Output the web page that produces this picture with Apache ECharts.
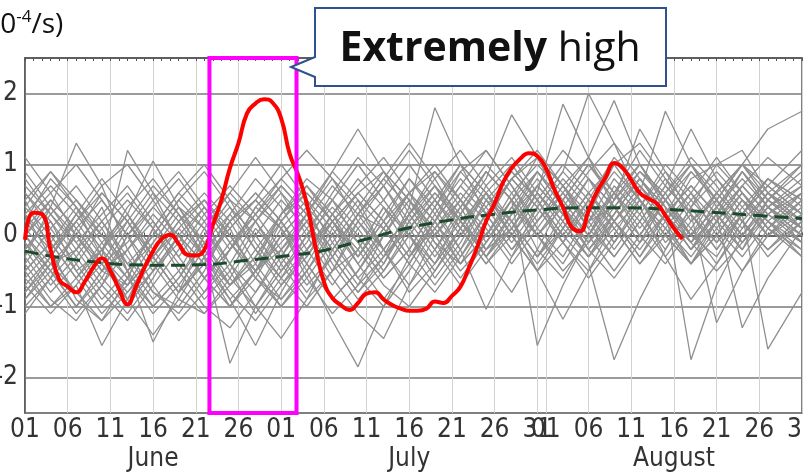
<!DOCTYPE html>
<html>
<head>
<meta charset="utf-8">
<script src="https://cdn.jsdelivr.net/npm/echarts@6/dist/echarts.min.js"></script>
<style>
  html, body { margin: 0; padding: 0; background: #fff; }
  #chart { width: 804px; height: 475px; }
</style>
</head>
<body>
<div id="chart"></div>
<script>
// calendar (June 01 .. August 31)
const months = ['June', 'July', 'August']
const monthLengths = [30, 31, 31]
const labelDays = [1, 6, 11, 16, 21, 26, 31]
const monthNameDay = 16
const yTicks = [-2, -1, 0, 1, 2]

// highlighted period (day index from June 01)
const boxDays = [21.6, 31.8]

// red line: this year, daily from June 01
const redValues = [
  -0.06, 0.32, 0.30, -0.20, -0.62, -0.72, -0.80, -0.65, -0.45, -0.32,
  -0.50, -0.75, -0.97, -0.72, -0.45, -0.22, -0.05, 0.01, -0.12, -0.27,
  -0.28, -0.20, 0.15, 0.50, 0.95, 1.30, 1.72, 1.86, 1.92, 1.87,
  1.65, 1.15, 0.85, 0.45, -0.15, -0.65, -0.88, -0.98, -1.05, -0.95,
  -0.82, -0.80, -0.90, -0.98, -1.03, -1.06, -1.06, -1.03, -0.93, -0.95,
  -0.85, -0.72, -0.45, -0.15, 0.20, 0.45, 0.75, 0.95, 1.08, 1.16,
  1.12, 0.95, 0.65, 0.40, 0.12, 0.06, 0.35, 0.62, 0.82, 1.02,
  0.95, 0.78, 0.60, 0.52, 0.45, 0.28, 0.10, -0.05
]

// dashed line: climatology
const climDays = [0, 4, 8, 12, 17, 21, 26, 31, 35, 40, 45, 50, 55, 60, 65, 70, 75, 80, 86, 91]
const climValues = [-0.22, -0.31, -0.37, -0.41, -0.42, -0.41, -0.35, -0.28, -0.21, -0.05,
  0.11, 0.22, 0.30, 0.36, 0.39, 0.39, 0.37, 0.33, 0.28, 0.24]

// gray lines: other years
const grayDays = [0, 3, 6, 9, 12, 15, 18, 21, 24, 27, 30, 33, 36, 39, 42, 45, 48, 51, 54, 57, 60, 63, 66, 69, 72, 75, 78, 81, 84, 87, 91]
const grayMembers = [
  [1.1, 0.6, 0.0, -0.5, -0.7, -0.3, 0.2, 0.5, 0.1, -0.6, -0.9, -0.5, 0.1, 0.6, 0.9, 0.5, -0.1, -0.4, 0.2, 0.8, 1.1, 0.7, 0.2, 0.4, 0.9, 0.6, 0.0, -0.3, 0.3, 0.8, 0.5],
  [-0.3, 0.4, 1.3, 0.7, -0.2, -0.8, -1.0, -0.5, 0.2, 0.5, 0.1, -0.6, -1.1, -0.7, 0.0, 0.6, 0.9, 0.4, -0.2, 0.1, 0.7, 1.2, 0.8, 0.2, -0.3, 0.2, 0.8, 1.0, 0.6, 0.1, -0.2],
  [0.5, -0.2, -0.9, -1.2, -0.6, 0.1, 0.6, 0.2, -0.4, -1.0, -1.45, -0.9, -0.2, 0.3, 0.1, -0.4, 0.2, 0.9, 1.2, 0.7, 0.1, -0.3, 0.3, 1.0, 1.3, 0.8, 0.2, 0.5, 1.0, 0.7, 0.3],
  [-0.6, -1.0, -0.7, -1.55, -0.9, -0.2, 0.3, -0.1, -0.7, -0.4, 0.3, 0.8, 0.5, -0.1, -0.6, -0.2, 0.4, 1.0, 0.6, 0.0, -0.5, 0.1, 0.6, 0.2, -0.3, 0.3, 0.9, 0.5, -0.1, 0.4, 0.8],
  [0.2, 0.8, 0.4, -0.3, 1.2, 0.6, -0.1, -0.6, -1.0, -0.6, 0.0, 0.4, 0.9, 1.5, 0.9, 0.3, -0.2, 0.3, 0.9, 0.5, -0.2, -0.6, 0.0, 0.7, 0.3, -0.2, 0.4, 1.0, 1.2, 0.6, 0.1],
  [-1.1, -0.6, 0.1, 0.5, 0.0, -0.7, -1.2, -0.8, -0.2, 0.3, 0.8, 0.4, -0.3, -0.8, -0.3, 0.4, 1.8, 1.0, 0.3, -0.2, 0.2, 0.7, 1.1, 0.6, 0.0, -0.4, 0.1, 0.6, 0.2, -0.3, 0.2],
  [0.0, -0.4, -0.2, 0.4, -0.5, -1.5, -0.8, 0.0, 0.5, 0.2, -0.3, 0.3, 0.9, 0.5, -0.2, -0.8, -0.4, 0.3, 0.8, 1.7, 1.1, 0.4, 0.0, 0.5, 1.0, 0.5, -0.1, 0.3, 0.9, 0.4, -0.1],
  [-0.8, -0.3, 0.3, -0.2, -0.9, -1.4, -0.9, -0.3, -1.8, -1.0, -0.4, 0.1, 0.5, 0.1, -0.4, 0.2, 0.7, 0.3, -0.3, -0.8, -0.2, 0.5, 1.0, 0.6, 0.1, 0.6, 1.1, 0.7, 0.2, -0.2, 0.3],
  [0.6, 0.2, -0.5, -1.0, -0.6, 0.1, 0.6, 1.0, 0.5, -0.1, -0.6, -1.0, -0.5, 0.2, 0.7, 1.2, 0.7, 0.1, -0.4, 0.0, 0.6, 1.85, 1.1, 0.4, -0.1, 0.3, 0.7, 0.3, -0.2, 0.5, 0.9],
  [-0.4, -0.9, -1.2, -0.7, 0.0, 0.4, 0.0, -0.6, -0.2, 0.4, 0.1, -0.5, -1.2, -1.85, -1.0, -0.3, 0.3, 0.8, 0.4, -0.1, 0.4, 0.9, 2.0, 1.3, 0.5, 0.0, -0.4, 0.2, 0.7, 0.3, 0.0],
  [0.3, -0.3, -0.8, -0.4, 0.2, 0.7, 0.3, -0.3, -0.9, -1.55, -0.8, -0.2, 0.3, 0.8, 0.4, -0.2, -0.7, -0.2, 0.5, 0.9, 0.5, -0.1, -0.5, 0.0, 0.6, 1.75, 1.0, 0.4, 0.0, 0.5, 1.0],
  [-0.2, 0.3, 0.7, 0.2, -0.4, -0.9, -0.5, 0.1, 0.6, 1.1, 0.6, 0.0, -0.6, -1.1, -1.45, -0.7, 0.0, 0.5, 1.0, 0.6, 0.0, -0.4, 0.2, 0.8, 0.4, -0.3, -0.9, -0.4, 0.2, 0.6, 0.3],
  [-0.5, -0.1, -0.6, -1.1, -0.7, -0.1, 0.4, 0.1, -0.5, -1.1, -0.6, 0.0, 0.6, 1.1, 0.7, 0.1, -0.4, 0.1, 0.6, 0.2, -0.5, -1.18, -0.5, 0.2, 0.7, 0.3, -0.2, 0.4, 0.8, 0.4, 0.0],
  [0.8, 0.3, -0.1, -0.6, -1.0, -0.5, 0.0, -0.4, -1.0, -0.5, 0.2, 0.7, 0.3, -0.3, 0.2, 0.8, 0.4, -0.2, -1.04, -0.3, 0.4, 0.9, 0.5, -0.1, 0.4, 1.0, 0.6, 0.0, -0.5, 0.0, 0.5],
  [-0.9, -0.5, 0.0, 0.6, 0.2, -0.4, -0.9, -1.1, -0.6, 0.0, 0.5, 0.1, -0.5, -0.2, 0.4, 0.0, -0.5, 0.0, 0.6, 1.0, 0.5, 0.0, -0.4, -1.75, -0.9, -0.2, 0.4, 0.8, 0.4, 0.0, 0.4],
  [0.1, 0.5, 0.1, -0.4, -0.8, -0.4, 0.1, 0.5, 0.0, -0.5, -0.2, 0.3, 0.8, 0.4, -0.2, 0.3, 0.9, 0.5, 0.0, 0.5, 1.1, 0.7, 0.1, 0.6, 1.2, 0.7, 1.5, 0.8, 0.3, 0.7, 1.2],
  [-0.3, -0.8, -0.4, 0.1, 0.5, 0.1, -0.5, -1.0, -1.3, -0.8, -0.2, 0.2, -0.3, -0.8, -0.4, 0.3, 0.7, 0.2, -0.3, 0.2, 0.7, 0.3, -0.2, 0.3, 0.8, 0.4, -1.75, -0.7, 0.0, 0.5, 0.2],
  [0.4, 0.0, -0.5, -0.2, 0.3, 1.05, 0.4, -0.2, -0.7, -0.3, 0.3, 0.7, 0.2, -0.4, -0.9, -0.4, 0.2, 0.7, 1.2, 0.7, 0.2, 0.6, 1.1, 1.9, 1.0, 0.4, 0.0, 0.4, 0.9, 0.5, 0.1],
  [-0.7, -0.3, 0.2, 0.6, 0.2, -0.3, -0.8, -0.4, 0.2, 0.6, 0.2, -0.4, -0.9, -0.5, 0.1, 0.6, 0.2, -0.3, 0.2, 0.8, 0.4, -0.1, 0.4, 0.9, 0.5, -0.1, 0.3, -1.23, -0.5, 0.1, 0.6],
  [0.0, -0.5, -1.0, -0.6, 0.0, 0.5, 0.9, 0.4, -0.1, 0.3, 0.7, 0.3, -0.2, 0.3, 0.8, 1.3, 0.8, 0.2, -0.3, 0.1, 0.6, 0.2, -0.3, 0.2, 0.7, 0.3, -0.2, 0.3, -1.3, -0.6, 0.1],
  [-0.2, 0.2, -0.3, -0.8, -1.2, -0.7, -0.2, 0.3, 0.7, 0.3, -0.2, -0.7, -0.3, 0.3, 0.8, 0.4, -0.1, -0.6, -0.1, 0.5, -1.55, -0.7, 0.0, 0.6, 1.0, 0.5, 0.0, 0.6, 1.0, 1.5, 1.75],
  [0.7, 0.3, -0.2, 0.2, 0.6, 0.1, -0.4, -0.9, -0.5, 0.1, -0.3, -0.8, -0.3, 0.2, -0.2, -0.7, -0.2, 0.4, 0.9, 0.5, 0.0, 0.5, 1.0, 0.5, 1.5, 0.9, 0.3, -0.2, 0.3, -1.6, -0.8],
  [-0.5, -1.0, -0.6, -0.1, 0.3, -0.2, -0.7, -1.1, -0.7, -0.2, 0.3, 0.6, 0.2, -0.3, 0.2, 0.6, 0.2, -0.4, 0.0, 0.5, 0.9, 0.4, -0.2, 0.2, 0.6, 0.2, -0.4, 0.1, 0.6, 0.2, -0.2],
  [0.2, -0.2, 0.3, 0.8, 0.3, -0.3, -0.8, -0.3, 0.3, 0.8, 0.4, -0.2, -0.7, -0.2, 0.4, 0.0, -0.6, -0.1, 0.5, 0.2, -0.3, 0.2, 0.8, 0.4, -0.1, 0.5, 1.0, 0.5, 0.0, 0.4, 0.7],
  [-1.0, -0.6, -0.2, -0.7, -1.1, -0.6, 0.0, -0.4, -0.9, -0.5, 0.0, 0.4, 0.0, -0.6, -1.0, -0.5, 0.1, 0.5, 0.1, -0.4, 0.1, 0.6, 0.2, -0.3, 0.2, 0.7, 0.3, -0.1, 0.4, 0.8, 0.4],
  [0.5, 0.9, 0.4, -0.1, -0.6, -1.0, -0.6, 0.0, 0.4, 0.0, -0.5, -0.1, 0.5, 1.0, 0.5, 0.0, -0.4, 0.1, 0.7, 1.1, 0.6, 0.1, -0.3, 0.1, 0.5, 0.1, -0.4, 0.0, 0.5, 0.1, -0.3],
  [-0.1, -0.6, -1.1, -0.7, -0.2, 0.2, -0.3, -0.8, -0.4, 0.2, 0.6, 0.2, -0.4, -0.9, -0.5, 0.1, 0.5, 1.0, 0.6, 0.0, -0.5, -0.1, 0.5, 0.1, -0.4, 0.1, 0.6, 0.2, -0.2, 0.3, 0.6],
  [0.3, -0.1, -0.6, -0.2, 0.4, 0.8, 0.3, -0.3, 0.1, 0.5, 1.0, 0.5, -0.1, -0.6, -0.2, 0.3, -0.2, -0.7, -0.2, 0.3, 0.8, 0.3, -0.2, -0.6, -0.1, 0.5, 0.1, -0.4, 0.1, 0.6, 0.2],
  [-0.6, -0.2, 0.2, -0.3, -0.7, -0.3, 0.2, 0.6, 0.2, -0.4, -0.9, -0.4, 0.2, 0.6, 0.2, -0.3, 0.1, 0.6, 0.2, -0.3, 0.2, 0.7, 0.3, -0.2, 0.3, 0.8, 0.4, -0.1, 0.3, 0.7, 0.3],
  [0.0, 0.4, 0.0, -0.5, -0.2, 0.3, -0.1, -0.6, -1.0, -0.5, 0.1, 0.5, 0.1, -0.4, 0.1, 0.6, 1.0, 0.5, -0.1, 0.4, 0.9, 0.4, -0.1, 0.4, 0.8, 0.3, -0.1, 0.5, 1.0, 0.5, 0.1],
  [0.4, 0.9, 0.5, 0.0, -0.4, 0.0, 0.5, 0.1, -0.4, -0.8, -0.3, 0.2, 0.7, 0.3, -0.2, 0.3, 0.8, 1.2, 0.7, 0.2, -0.3, 0.3, 0.8, 0.4, 0.0, 0.5, 0.9, 0.5, 0.1, 0.6, 1.0],
  [-0.9, -0.4, -0.8, -1.2, -0.8, -0.3, 0.1, -0.3, -0.8, -1.2, -0.7, -0.2, 0.2, -0.2, -0.7, -1.0, -0.5, 0.1, 0.6, 0.2, -0.3, 0.1, 0.6, 1.0, 0.5, 0.0, -0.4, 0.0, 0.5, 0.2, -0.1],
  [0.1, -0.3, 0.2, 0.7, 1.0, 0.5, -0.1, -0.6, -0.2, 0.4, 0.8, 1.2, 0.8, 0.2, -0.3, 0.1, 0.6, 0.2, -0.3, 0.3, 0.9, 0.5, 0.0, -0.5, 0.0, 0.6, 1.0, 0.6, 0.2, -0.2, 0.2],
  [-0.4, 0.1, 0.5, 0.1, -0.5, -1.0, -0.6, -0.1, 0.3, -0.2, -0.7, -0.3, 0.3, 0.7, 1.1, 0.6, 0.0, -0.5, -0.1, 0.4, 0.0, -0.5, -0.1, 0.5, 0.9, 0.5, 0.0, 0.4, 0.9, 0.4, 0.0],
  [0.6, 0.1, -0.4, -0.9, -0.5, 0.0, 0.5, 0.9, 0.4, -0.2, -0.6, -0.2, 0.3, -0.1, -0.6, -0.2, 0.4, 0.9, 0.5, 0.0, 0.5, 1.0, 0.6, 0.1, -0.4, 0.0, 0.5, 0.9, 0.5, 0.0, 0.3],
  [-0.7, -1.1, -0.7, -0.2, 0.2, -0.3, -0.8, -0.4, 0.1, 0.5, 0.1, -0.4, -0.9, -0.5, 0.0, 0.5, 0.1, -0.4, 0.0, 0.6, 1.0, 0.6, 0.1, -0.3, 0.2, 0.7, 0.3, -0.2, 0.3, 0.8, 0.5],
  [0.2, 0.6, 1.0, 0.5, 0.0, -0.5, -0.1, 0.4, -0.1, -0.6, -1.0, -0.6, -0.1, 0.4, 0.9, 0.5, 0.0, 0.4, 0.9, 0.5, 0.0, 0.4, 0.9, 1.3, 0.8, 0.3, -0.2, 0.2, 0.7, 1.1, 0.7],
  [-0.2, -0.7, -0.3, 0.2, -0.3, -0.8, -1.1, -0.6, -0.1, -0.5, -1.0, -0.5, 0.0, 0.5, 0.1, -0.4, -0.8, -0.3, 0.3, 0.8, 0.4, -0.1, -0.6, -0.1, 0.5, 0.1, -0.3, 0.2, 0.6, 0.2, -0.3],
  [0.9, 0.4, -0.1, 0.3, 0.7, 0.2, -0.3, 0.2, 0.6, 0.2, -0.4, -0.9, -0.5, 0.1, 0.5, 1.0, 0.5, 0.0, 0.4, 0.9, 0.5, 0.0, 0.5, 1.1, 0.7, 0.2, 0.6, 1.1, 0.6, 0.1, 0.5],
  [-0.5, -0.1, 0.4, 0.0, -0.5, -0.1, 0.4, -0.1, -0.6, -1.0, -0.5, 0.0, 0.4, 0.0, -0.5, 0.0, 0.5, 0.1, -0.4, 0.1, 0.6, 0.2, -0.3, 0.3, 0.8, 0.4, -0.1, -0.5, -0.1, 0.4, 0.1],
  [-0.1, -0.5, -1.0, -0.5, 0.1, 0.6, 0.2, -0.3, -0.7, -0.3, 0.2, 0.6, 0.2, -0.3, 0.3, 0.8, 0.3, -0.2, 0.3, 0.8, 1.2, 0.7, 0.2, 0.6, 0.2, -0.3, 0.2, 0.6, 1.0, 0.6, 0.2],
  [0.3, 0.7, 0.3, -0.2, -0.6, -1.1, -0.7, -0.2, 0.2, 0.6, 0.2, -0.3, 0.2, 0.6, 0.2, -0.3, 0.2, 0.7, 0.3, -0.2, 0.3, 0.8, 0.4, -0.1, 0.4, 0.9, 0.5, 0.1, -0.3, 0.2, 0.6],
  [-0.8, -0.4, 0.0, -0.4, -0.9, -0.5, 0.0, 0.4, 0.0, -0.5, -0.1, 0.3, -0.2, -0.7, -0.3, 0.2, 0.6, 0.2, -0.2, 0.3, 0.7, 0.3, -0.1, 0.3, 0.8, 0.3, -0.1, 0.3, 0.7, 0.3, -0.1],
  [0.0, 0.5, 0.1, -0.4, -0.1, 0.4, 0.8, 0.3, -0.2, 0.2, 0.7, 0.3, -0.2, 0.3, 0.7, 0.2, -0.3, 0.2, 0.6, 0.1, -0.4, 0.1, 0.6, 0.2, -0.2, 0.3, 0.7, 0.3, -0.1, 0.3, 0.7]
]

const axisFont = "'Liberation Sans Narrow', 'DejaVu Sans Condensed', sans-serif"

const categories = []
months.forEach((m, i) => {
  for (let d = 1; d <= monthLengths[i]; d++) {
    categories.push(m + ' ' + String(d).padStart(2, '0'))
  }
})
const dayOf = (c) => parseInt(c.split(' ')[1], 10)
const showLabel = (index, value) => labelDays.includes(dayOf(value))

const grayColor = '#8f8f8f'
const series = grayMembers.map((vals, k) => ({
  name: 'member' + k,
  type: 'line',
  xAxisIndex: 2,
  symbol: 'none',
  silent: true,
  z: 2,
  lineStyle: { color: grayColor, width: 1.3 },
  data: grayDays.map((d, i) => [d, vals[i]])
}))

series.push({
  name: 'climatology',
  type: 'line',
  xAxisIndex: 2,
  smooth: true,
  symbol: 'none',
  silent: true,
  z: 5,
  lineStyle: { color: '#1c4a2d', width: 3, type: [14, 7] },
  data: climDays.map((d, i) => [d, climValues[i]])
})

series.push({
  name: 'this year',
  type: 'line',
  xAxisIndex: 2,
  smooth: true,
  symbol: 'none',
  silent: true,
  z: 6,
  lineStyle: { color: '#ff0000', width: 4 },
  data: redValues.map((v, i) => [i, v]),
  markArea: {
    silent: true,
    z: 10,
    itemStyle: { color: 'rgba(0,0,0,0)', borderColor: '#ff00ff', borderWidth: 4 },
    data: [[{ xAxis: boxDays[0], yAxis: 2.5 }, { xAxis: boxDays[1], yAxis: -2.5 }]]
  }
})

const chart = echarts.init(document.getElementById('chart'))
chart.setOption({
  animation: false,
  grid: {
    left: 25, right: 2, top: 58, bottom: 62,
    outerBoundsMode: 'none',
    containLabel: false,
    show: true, borderColor: '#555', borderWidth: 1.5
  },
  xAxis: [
    {
      type: 'category',
      data: categories,
      boundaryGap: false,
      position: 'bottom',
      axisLine: { lineStyle: { color: '#555', width: 1.5 } },
      axisTick: { inside: true, length: 3, interval: 0, lineStyle: { color: '#555' } },
      axisLabel: {
        interval: showLabel,
        margin: 2,
        color: '#333',
        fontFamily: axisFont,
        fontSize: 26,
        formatter: (value) => {
          const d = dayOf(value)
          const dd = String(d).padStart(2, '0')
          if (d === monthNameDay) return '{d|' + dd + '}\n{m|' + value.split(' ')[0] + '}'
          return '{d|' + dd + '}'
        },
        rich: {
          d: { fontFamily: axisFont, fontSize: 26, lineHeight: 30, color: '#333' },
          m: { fontFamily: axisFont, fontSize: 26, lineHeight: 28, color: '#333' }
        }
      },
      splitLine: { show: true, interval: showLabel, lineStyle: { color: '#d2d2d2', width: 1 } }
    },
    {
      type: 'category',
      data: categories,
      boundaryGap: false,
      position: 'top',
      axisLine: { lineStyle: { color: '#555', width: 1.5 } },
      axisTick: { inside: true, length: 3, interval: 0, lineStyle: { color: '#555' } },
      axisLabel: { show: false },
      splitLine: { show: false }
    },
    { type: 'value', min: 0, max: 91, show: false }
  ],
  yAxis: {
    type: 'value',
    min: -2.5,
    max: 2.5,
    axisLabel: {
      customValues: yTicks,
      margin: 7,
      color: '#333',
      fontFamily: axisFont,
      fontSize: 26,
      formatter: (v) => String(v)
    },
    axisTick: { show: false, customValues: yTicks },
    axisLine: { show: true, lineStyle: { color: '#555', width: 1.5 } },
    splitLine: { show: true, lineStyle: { color: '#7a7a7a', width: 1.5 } }
  },
  graphic: [
    {
      type: 'text',
      left: -24,
      top: 9,
      z: 100,
      style: {
        text: '{a|(10}{s|-4}{a|/s)}',
        fill: '#111',
        rich: {
          a: { fontFamily: 'Open Sans', fontSize: 28, lineHeight: 32, fill: '#111' },
          s: { fontFamily: 'Open Sans', fontSize: 17, lineHeight: 32, verticalAlign: 'top', fill: '#111' }
        }
      }
    },
    {
      type: 'polygon',
      z: 100,
      shape: { points: [[315, 8], [666, 8], [666, 86], [315, 86], [315, 77], [291, 67], [315, 57]] },
      style: { fill: '#fff', stroke: '#2f528f', lineWidth: 2 }
    },
    {
      type: 'text',
      x: 490,
      y: 49,
      z: 101,
      style: {
        text: '{b|Extremely}{r| high}',
        align: 'center',
        verticalAlign: 'middle',
        rich: {
          b: { fontFamily: 'Open Sans', fontSize: 41, fontWeight: 'bold', fill: '#111' },
          r: { fontFamily: 'Open Sans', fontSize: 41, fill: '#111' }
        }
      }
    }
  ],
  series: series
})
</script>
</body>
</html>
